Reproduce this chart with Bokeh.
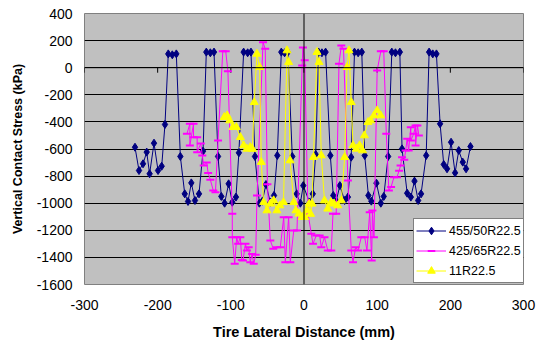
from bokeh.plotting import figure
from bokeh.models import Span, Legend, LegendItem, FixedTicker, Range1d, CustomJSTickFormatter
from bokeh.embed import file_html
from bokeh.resources import INLINE

# ---------------- data ----------------
x_ticks = [-300, -200, -100, 0, 100, 200, 300]
y_ticks = [-1600, -1400, -1200, -1000, -800, -600, -400, -200, 0, 200, 400]
grid_ticks = [-1400, -1200, -1000, -800, -600, -400, -200, 0, 200]

name_a = "455/50R22.5"
x_a = [-231, -225.5, -220, -215, -211, -205, -199.5, -194.5, -190,
       -185.5, -180, -174.5,
       -169, -163, -158.5, -154, -149, -143.5, -138,
       -133.5, -128, -123,
       -117.5, -113, -108.5, -103, -98, -93, -89,
       -82.5, -77, -72.5,
       -67, -61, -57, -52, -46, -41, -36.5,
       -31, -26.5, -22,
       -16, -10, -5, -1, 7.5, 12, 16,
       20, 24.5, 29.5,
       36, 40, 44, 49, 55.5, 60, 64.5,
       69, 74, 79,
       83, 88, 92, 99, 105, 109, 115,
       120, 125, 131,
       134, 141, 146, 151, 156, 160, 167,
       171, 176, 181,
       186, 191, 195.5, 201, 206.5, 211.5, 217, 221.5, 227.5]
y_a = [-587, -759, -709, -623, -783, -557, -759, -727, -419,
       102, 95, 102,
       -655, -931, -987, -850, -980, -931, -616,
       115, 110, 115,
       -655, -950, -1000, -857, -993, -955, -628,
       115, 110, 115,
       -655, -1000, -985, -862, -993, -943, -648,
       115, 110, 115,
       -655, -931, -1000, -870, -993, -931, -640,
       115, 110, 115,
       -648, -943, -985, -870, -980, -955, -660,
       115, 110, 115,
       -648, -943, -985, -852, -1000, -950, -655,
       115, 110, 115,
       -599, -926, -955, -837, -980, -931, -648,
       115, 102, 102,
       -414, -714, -746, -550, -776, -611, -697, -746, -582]

name_b = "425/65R22.5"
x_b = [-160, -156, -156, -151, -151, -146, -146, -141, -139, -137, -133, -131, -128,
       -124, -121, -117.5, -111, -107, -104, -98, -98, -94.7, -92, -90, -87, -85,
       -83.4, -80, -78, -75.6, -73.4, -71, -68.7, -66, -64.2, -56, -53, -50, -46,
       -42, -37, -32.4, -27.7, -25.5, -21, -18.7, -14, -9.6, -2.5, -1.5, 1, 5.5,
       10, 12.3, 16.8, 21.4, 23.6, 28, 32.5, 37.3, 39.6, 44, 47.8, 51, 54, 60,
       64.6, 67, 70.6, 73.8, 78.3, 83, 86, 89.8, 92.5, 93.5, 95.6, 100, 105, 109,
       112.5, 116, 119, 123, 127, 130, 132, 134, 137, 139, 141, 143, 146, 146,
       150, 152.5, 152.5, 155, 157]
y_b = [-488, -414, -574, -414, -513, -513, -624, -560, -648, -722, -700, -778, -827,
       -906, -919, -537, 122, 122, -26, -1078, -1251, -1447, -1251, -1300, -1251, -1420,
       -1423, -1300, -1349, -1325, -1435, -1374, -1447, -1380, -943, 188, 139, -860, -1275,
       -1337, -1325, -1325, -1103, -1435, -1103, -1435, -1201, -1201, 16, 150, 55, -1078,
       -1226, -1300, -1238, -1238, -1325, -1251, -1349, -1349, -1078, -1078, 29, 164, 139, -832,
       -1349, -1435, -1325, -1349, -1251, -1251, -1349, -1066, -1423, -1054, -1251, -21, 122, 122,
       -488, -906, -880, -808, -808, -760, -722, -660, -680, -611, -525, -611, -439, -537,
       -488, -427, -574, -427, -500]

name_c = "11R22.5"
x_c = [-109, -105, -101.6, -97, -92.5, -87, -82.4, -78, -73.4, -70.5,
       -68, -64.3, -60.6, -58.4, -55.2, -50.6, -46, -41.5, -37, -33,
       -28, -23.2, -21, -19, -14, -11, -7, -2.5, 1, 4,
       7, 9, 11, 13, 17.8, 20.5, 23.6, 28, 32.5, 37,
       41, 46, 51, 55.6, 58.8, 61.5, 64.6, 67, 71.5, 76,
       80, 82.5, 87.5, 91, 95.6, 100, 104.8]
y_c = [-365, -353, -390, -439, -439, -513, -574, -599, -587, -600,
       -255, 102, 4, -697, -993, -1054, -1004, -980, -1054, -1017,
       -993, 127, 41, -685, -993, -1054, -1078, -1103, -1103, -1054,
       -1004, -1080, -1004, -660, 115, 41, -648, -980, -1041, -993,
       -1004, -1017, -980, -660, 4, 127, -255, -574, -599, -574,
       -611, -500, -402, -390, -353, -316, -353]

# ---------------- figure ----------------
FONT = "Liberation Sans"
p = figure(width=537, height=342, output_backend="svg", toolbar_location=None,
           x_range=Range1d(-300, 300), y_range=Range1d(-1600, 400),
           min_border_left=84, min_border_right=14, min_border_top=13,
           min_border_bottom=58)
p.background_fill_color = "#C0C0C0"
p.border_fill_color = "white"
p.outline_line_color = "#808080"
p.outline_line_width = 1

p.xgrid.visible = False
p.ygrid.ticker = FixedTicker(ticks=grid_ticks)
p.ygrid.grid_line_color = "black"
p.ygrid.grid_line_width = 1

fmt_code = "return tick.toFixed(0);"
for ax in (p.xaxis[0], p.yaxis[0]):
    ax.axis_line_color = None
    ax.major_tick_line_color = None
    ax.minor_tick_line_color = None
    ax.major_tick_out = 0
    ax.major_tick_in = 0
    ax.minor_tick_out = 0
    ax.minor_tick_in = 0
    ax.formatter = CustomJSTickFormatter(code=fmt_code)
    ax.major_label_text_font = FONT
    ax.major_label_text_font_size = "14px"
    ax.major_label_text_color = "black"
    ax.axis_label_text_font = FONT
    ax.axis_label_text_font_style = "bold"
    ax.axis_label_text_color = "black"

p.xaxis.axis_label_text_font_size = "14.5px"
p.yaxis.axis_label_text_font_size = "12.5px"
p.xaxis.ticker = FixedTicker(ticks=x_ticks)
p.yaxis.ticker = FixedTicker(ticks=y_ticks)
p.xaxis.axis_label = "Tire Lateral Distance (mm)"
p.yaxis.axis_label = "Vertical Contact Stress (kPa)"
p.xaxis.major_label_standoff = 15
p.xaxis.axis_label_standoff = 11
p.yaxis.major_label_standoff = 12
p.yaxis.axis_label_standoff = 9

# axes crossing at zero
p.add_layout(Span(location=0, dimension="width", line_color="black", line_width=1))
p.add_layout(Span(location=0, dimension="height", line_color="black", line_width=1))
tick_len = 37
p.segment(x0=x_ticks, y0=[0] * len(x_ticks), x1=x_ticks, y1=[-tick_len] * len(x_ticks),
          line_color="black", line_width=1)

# series
NAVY, MAG, YEL = "#000080", "#FF00FF", "#FFFF00"
la = p.line(x_a, y_a, line_color=NAVY, line_width=1)
sa = p.scatter(x_a, y_a, marker="diamond", size=8, fill_color=NAVY, line_color=NAVY)
lb = p.line(x_b, y_b, line_color=MAG, line_width=1)
sb = p.scatter(x_b, y_b, marker="dash", size=8, line_color=MAG, line_width=2)
lc = p.line(x_c, y_c, line_color=YEL, line_width=1)
sc = p.scatter(x_c, y_c, marker="triangle", size=8, fill_color=YEL, line_color=YEL)

legend = Legend(items=[LegendItem(label=name_a, renderers=[la, sa]),
                       LegendItem(label=name_b, renderers=[lb, sb]),
                       LegendItem(label=name_c, renderers=[lc, sc])],
                location=(329, 1))
legend.border_line_color = "black"
legend.border_line_width = 1
legend.background_fill_color = "white"
legend.background_fill_alpha = 1
legend.label_text_font = FONT
legend.label_text_font_size = "12.5px"
legend.label_text_color = "black"
legend.glyph_width = 30
legend.glyph_height = 19
legend.label_height = 19
legend.spacing = 1
legend.padding = 2
legend.margin = 0
legend.label_standoff = 3
p.add_layout(legend)

open("out.html", "w").write(file_html(p, INLINE))
